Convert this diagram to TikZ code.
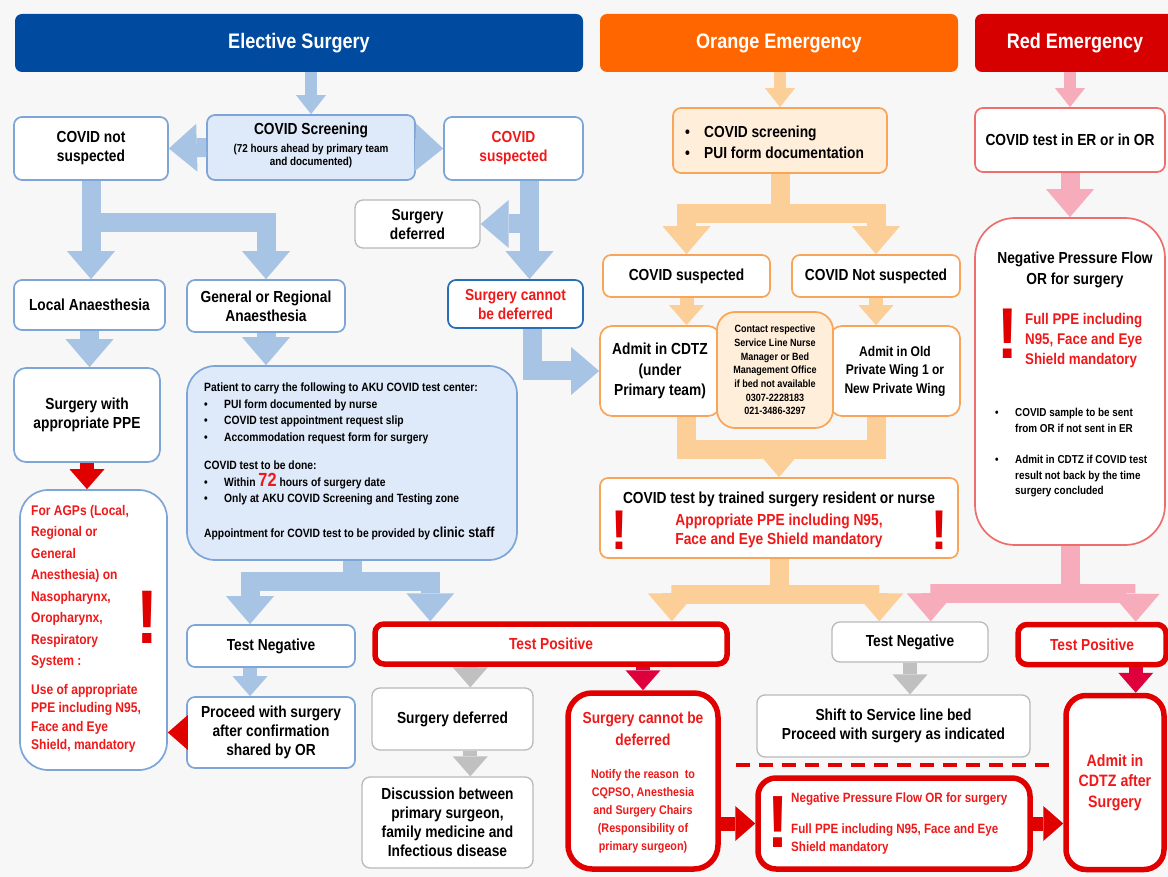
\documentclass[tikz,border=0pt]{standalone}
\usepackage{fontspec}
\setmainfont{Liberation Sans}[FakeStretch=0.86]
\usetikzlibrary{arrows.meta,calc}
\definecolor{electblue}{RGB}{0,75,160}
\definecolor{emorange}{RGB}{255,102,0}
\definecolor{emred}{RGB}{215,0,0}
\definecolor{lineblue}{RGB}{125,165,215}
\definecolor{darkblue}{RGB}{40,110,180}
\definecolor{arrblue}{RGB}{168,196,228}
\definecolor{fillblue}{RGB}{222,233,249}
\definecolor{lineorange}{RGB}{248,165,90}
\definecolor{arrorange}{RGB}{252,206,152}
\definecolor{fillorange}{RGB}{255,238,218}
\definecolor{linepink}{RGB}{238,110,110}
\definecolor{arrpink}{RGB}{247,172,188}
\definecolor{alertred}{RGB}{225,0,0}
\definecolor{textred}{RGB}{240,25,25}
\definecolor{crimson}{RGB}{222,0,60}
\definecolor{linegrey}{RGB}{185,185,185}
\definecolor{arrgrey}{RGB}{192,192,192}
\definecolor{bggrey}{RGB}{247,247,247}
\newcommand{\blt}{\makebox[20pt][l]{\textbullet}}
\newcommand{\bltgap}{\makebox[20pt]{}}

\begin{document}
\begin{tikzpicture}[x=1pt, y=-1pt,
    every node/.style={align=center, inner sep=2pt, font=\bfseries\fontsize{16}{19}\selectfont},
    head/.style={fill=#1, rounded corners=7pt, text=white, minimum height=58, font=\bfseries\fontsize{21}{23}\selectfont},
    ebox/.style={draw=lineblue, line width=1.7pt, fill=white, rounded corners=8pt},
    obox/.style={draw=lineorange, line width=1.7pt, fill=white, rounded corners=8pt},
    rbox/.style={draw=linepink, line width=1.7pt, fill=white, rounded corners=8pt},
    gbox/.style={draw=linegrey, line width=1.3pt, fill=white, rounded corners=8pt},
    posbox/.style={draw=alertred, line width=5.5pt, fill=white, rounded corners=9pt, text=textred},
    bang/.style={text=alertred, inner sep=0pt, font=\bfseries\fontsize{#1}{#1}\selectfont},
    bigarr/.style={draw=#1, line width=19pt, -{Triangle[width=48pt,length=28pt,line width=0pt]}},
    midarr/.style={draw=#1, line width=14pt, -{Triangle[width=35pt,length=20pt,line width=0pt]}},
    smallarr/.style={draw=#1, line width=12pt, -{Triangle[width=30pt,length=19pt,line width=0pt]}},
    stemline/.style={draw=#1, line width=19pt}
]
    \fill[bggrey] (0,0) rectangle (1168,877);
    \useasboundingbox (0,0) rectangle (1168,877);
    \clip (0,0) rectangle (1168,877);

    % Header bars
    \node[head=electblue, minimum width=568] (hel) at (299,43) {Elective Surgery};
    \node[head=emorange, minimum width=358] (hor) at (779,43) {Orange Emergency};
    \node[head=emred, minimum width=200] (hred) at (1075,43) {Red Emergency};

    % Elective surgery column
    \node[ebox, fill=fillblue, minimum width=208, minimum height=65] (escr) at (311,147.5) {};
    \node (escrtop) at (311,130) {COVID Screening};
    \node[font=\bfseries\fontsize{11.5}{13}\selectfont] (escrsub) at (311,156) {(72 hours ahead by primary team\\and documented)};
    \node[ebox, minimum width=154, minimum height=63] (nsus) at (91,148.5) {COVID not\\suspected};
    \node[ebox, minimum width=139, minimum height=63, text=textred] (susp) at (513.5,148.5) {COVID\\suspected};
    \node[gbox, minimum width=125, minimum height=48] (sdef) at (417.5,224) {Surgery\\deferred};
    \node[ebox, minimum width=151, minimum height=50] (loc) at (89.5,305) {Local Anaesthesia};
    \node[ebox, minimum width=158, minimum height=52] (gen) at (266,306) {General or Regional\\Anaesthesia};
    \node[ebox, draw=darkblue, minimum width=135, minimum height=48, text=textred] (scnd) at (515.5,304) {Surgery cannot\\be deferred};
    \node[ebox, rounded corners=12pt, minimum width=146, minimum height=94] (spp) at (87,415) {Surgery with\\appropriate PPE};
    \node[ebox, fill=fillblue, rounded corners=28pt, minimum width=330, minimum height=194] (pui) at (352,463) {};
    \node[anchor=north west, align=left, font=\bfseries\fontsize{12}{16.5}\selectfont] (puitxt) at (202,381) {Patient to carry the following to AKU COVID test center:\\
        \blt PUI form documented by nurse\\
        \blt COVID test appointment request slip\\
        \blt Accommodation request form for surgery\\[12pt]
        COVID test to be done:\\
        \blt Within {\color{textred}\fontsize{19}{19}\selectfont 72} hours of surgery date\\
        \blt Only at AKU COVID Screening and Testing zone\\[18pt]
        Appointment for COVID test to be provided by {\fontsize{14.5}{14.5}\selectfont clinic staff}};
    \node[ebox, rounded corners=28pt, minimum width=147, minimum height=280] (agp) at (93.5,630) {};
    \node[anchor=north west, align=left, text=textred, font=\bfseries\fontsize{14}{21.5}\selectfont] (agptxt) at (29,503) {For AGPs (Local,\\Regional or\\General\\Anesthesia) on\\Nasopharynx,\\Oropharynx,\\Respiratory\\System :\\[7pt]Use of appropriate\\[-3pt]PPE including N95,\\[-3pt]Face and Eye\\[-3pt]Shield, mandatory};
    \node[bang=76] (agpbang) at (147,617) {!};
    \node[ebox, minimum width=168, minimum height=42] (tneg) at (271,646) {Test Negative};
    \node[ebox, minimum width=168, minimum height=71] (proc) at (271,732.5) {Proceed with surgery\\after confirmation\\shared by OR};
    \node[posbox, minimum width=352, minimum height=40] (tpos) at (551,644) {Test Positive};
    \node[gbox, minimum width=161, minimum height=62] (sdef2) at (452.5,719) {Surgery deferred};
    \node[gbox, minimum width=171, minimum height=91] (disc) at (447.5,822.5) {Discussion between\\primary surgeon,\\family medicine and\\Infectious disease};
    \node[posbox, rounded corners=24pt, minimum width=150, minimum height=176] (lcnd) at (643,781) {};
    \node[text=textred, font=\bfseries\fontsize{16}{22}\selectfont] (lcndtop) at (643,729) {Surgery cannot be\\deferred};
    \node[text=textred, font=\bfseries\fontsize{12.5}{18}\selectfont] (lcndsub) at (643,811) {Notify the reason\ \ to\\CQPSO, Anesthesia\\and Surgery Chairs\\(Responsibility of\\primary surgeon)};
    \node[posbox, rounded corners=18pt, minimum width=272, minimum height=91] (negl) at (894,823.5) {};
    \node[bang=74] (neglbang) at (778,822) {!};
    \node[anchor=west, align=left, text=textred, font=\bfseries\fontsize{13.5}{18}\selectfont] (negltxt) at (789,824) {Negative Pressure Flow OR for surgery\\[13pt]Full PPE including N95, Face and Eye\\Shield mandatory};

    % Orange emergency column
    \node[obox, fill=fillorange, minimum width=214, minimum height=65] (oscr) at (780,140.5) {};
    \node[anchor=west, align=left, font=\bfseries\fontsize{16}{21}\selectfont] (oscrtxt) at (683,142) {\makebox[19pt][l]{\textbullet}COVID screening\\\makebox[19pt][l]{\textbullet}PUI form documentation};
    \node[obox, minimum width=167, minimum height=42] (osus) at (686.5,276) {COVID suspected};
    \node[obox, minimum width=168, minimum height=42] (onot) at (876,276) {COVID Not suspected};
    \node[obox, rounded corners=12pt, minimum width=120, minimum height=90, font=\bfseries\fontsize{16}{20.5}\selectfont] (cdtz) at (660,371) {Admit in CDTZ\\(under\\Primary team)};
    \node[obox, rounded corners=12pt, minimum width=130, minimum height=90, font=\bfseries\fontsize{14}{18.5}\selectfont] (owing) at (895,371) {Admit in Old\\Private Wing 1 or\\New Private Wing};
    \node[obox, fill=fillorange, rounded corners=18pt, minimum width=116, minimum height=116, font=\bfseries\fontsize{10.5}{13.7}\selectfont] (cont) at (775,370) {Contact respective\\Service Line Nurse\\Manager or Bed\\Management Office\\if bed not available\\0307-2228183\\021-3486-3297};
    \node[obox, minimum width=358, minimum height=80] (otest) at (779,518) {};
    \node (otesttop) at (779,499) {COVID test by trained surgery resident or nurse};
    \node[text=textred] (otestred) at (779,531) {Appropriate PPE including N95,\\Face and Eye Shield mandatory};
    \node[bang=56] (obang1) at (620,530) {!};
    \node[bang=56] (obang2) at (940,530) {!};
    \node[gbox, minimum width=156, minimum height=40] (tnegr) at (910,642) {Test Negative};
    \node[gbox, minimum width=273, minimum height=62] (shift) at (893.5,726) {Shift to Service line bed\\Proceed with surgery as indicated};

    % Red emergency column
    \node[rbox, minimum width=190, minimum height=64] (rtest) at (1070,140) {COVID test in ER or in OR};
    \node[rbox, rounded corners=40pt, minimum width=190, minimum height=327] (rneg) at (1070,381.5) {};
    \node[font=\bfseries\fontsize{16}{21}\selectfont] (rnegtop) at (1075,270) {Negative Pressure Flow\\OR for surgery};
    \node[bang=72] (rbang) at (1008,334) {!};
    \node[anchor=west, align=left, text=textred, font=\bfseries\fontsize{15.5}{20}\selectfont] (rnegred) at (1023,340) {Full PPE including\\N95, Face and Eye\\Shield mandatory};
    \node[anchor=north west, align=left, font=\bfseries\fontsize{11.5}{15.5}\selectfont] (rnegbul) at (993,406) {\blt COVID sample to be sent\\\bltgap from OR if not sent in ER\\[16pt]\blt Admit in CDTZ if COVID test\\\bltgap result not back by the time\\\bltgap surgery concluded};
    \node[posbox, minimum width=148, minimum height=40] (tposr) at (1092,644.5) {Test Positive};
    \node[posbox, rounded corners=20pt, minimum width=98, minimum height=174, font=\bfseries\fontsize{16.5}{20.5}\selectfont] (admit) at (1115,782.5) {Admit in\\CDTZ after\\Surgery};

    % Helper points for the arrows
    \coordinate (suspout) at ($(susp.south)+(16,0)$);
    \coordinate (scndout) at ($(scnd.south)+(17,0)$);
    \coordinate (tnegin) at ($(tneg.north)+(-21,0)$);
    \coordinate (tposin) at ($(tpos.north west)+(58,0)$);
    \coordinate (tposg) at ($(tpos.south west)+(98,0)$);
    \coordinate (tposo) at ($(tpos.north east)+(-58,0)$);
    \coordinate (tnego) at ($(tnegr.north west)+(48,0)$);
    \coordinate (tnegp) at ($(tnegr.north east)+(-58,0)$);
    \coordinate (tposp) at ($(tposr.north east)+(-33,0)$);
    \coordinate (tposc) at ($(tposr.south east)+(-33,0)$);
    \coordinate (ojoin) at ($(otest.north)+(0,-28)$);
    \coordinate (dashA) at (736,765);
    \coordinate (dashB) at (1058,765);

    % Elective arrows
    \draw[smallarr=arrblue] (hel.south -| escr.north) -- (escr.north);
    \draw[bigarr=arrblue] (escr.west) -- (nsus.east);
    \draw[bigarr=arrblue] (escr.east) -- (susp.west);
    \draw[bigarr=arrblue] (nsus.south) -- (nsus.south |- loc.north);
    \draw[bigarr=arrblue] (nsus.south) -- ++(0,42) -| (gen.north);
    \draw[bigarr=arrblue] (suspout) -- (suspout |- scnd.north);
    \draw[bigarr=arrblue] (suspout) |- (sdef.east);
    \draw[bigarr=arrblue] (scndout) |- (cdtz.west);
    \draw[bigarr=arrblue] (loc.south) -- (loc.south |- spp.north);
    \draw[bigarr=arrblue] (gen.south) -- (gen.south |- pui.north);
    \draw[midarr=alertred] (spp.south) -- (spp.south |- agp.north);
    \draw[bigarr=arrblue] (pui.south) -- ++(0,21) -| (tnegin);
    \draw[bigarr=arrblue] (pui.south) -- ++(0,21) -| (tposin);
    \draw[midarr=arrblue] (tneg.south -| tnegin) -- (proc.north -| tnegin);
    \draw[midarr=alertred] (proc.west) -- (proc.west -| agp.east);
    \draw[midarr=arrgrey] (tposg) -- (tposg |- sdef2.north);
    \draw[midarr=arrgrey] (sdef2.south -| tposg) -- (disc.north -| tposg);
    \draw[midarr=crimson] (lcnd.north |- tpos.south) -- (lcnd.north);
    \draw[midarr=alertred] (negl.west -| lcnd.east) -- (negl.west);
    \draw[midarr=alertred] (negl.east) -- (negl.east -| admit.west);
    \draw[alertred, line width=4pt, dash pattern=on 14pt off 9pt] (dashA) -- (dashB);

    % Orange arrows
    \draw[smallarr=arrorange] (hor.south -| oscr.north) -- (oscr.north);
    \draw[bigarr=arrorange] (oscr.south) -- ++(0,40) -| (osus.north);
    \draw[bigarr=arrorange] (oscr.south) -- ++(0,40) -| (onot.north);
    \draw[midarr=arrorange] (osus.south) -- (osus.south |- cdtz.north);
    \draw[midarr=arrorange] (onot.south) -- (onot.south |- owing.north);
    \draw[stemline=arrorange] (owing.south -| onot.south) |- (ojoin);
    \draw[bigarr=arrorange] (cdtz.south -| osus.south) |- (ojoin) -- (otest.north);
    \draw[bigarr=arrorange] (otest.south) -- ++(0,36) -| (tposo);
    \draw[bigarr=arrorange] (otest.south) -- ++(0,36) -| (tnego);
    \draw[midarr=arrgrey] (tnegr.south) -- (tnegr.south |- shift.north);

    % Red arrows
    \draw[smallarr=arrpink] (hred.south -| rtest.north) -- (rtest.north);
    \draw[bigarr=arrpink] (rtest.south) -- (rneg.north);
    \draw[bigarr=arrpink] (rneg.south) -- ++(0,48) -| (tnegp);
    \draw[bigarr=arrpink] (rneg.south) -- ++(0,48) -| (tposp);
    \draw[midarr=crimson] (tposc) -- (tposc |- admit.north);
\end{tikzpicture}
\end{document}
